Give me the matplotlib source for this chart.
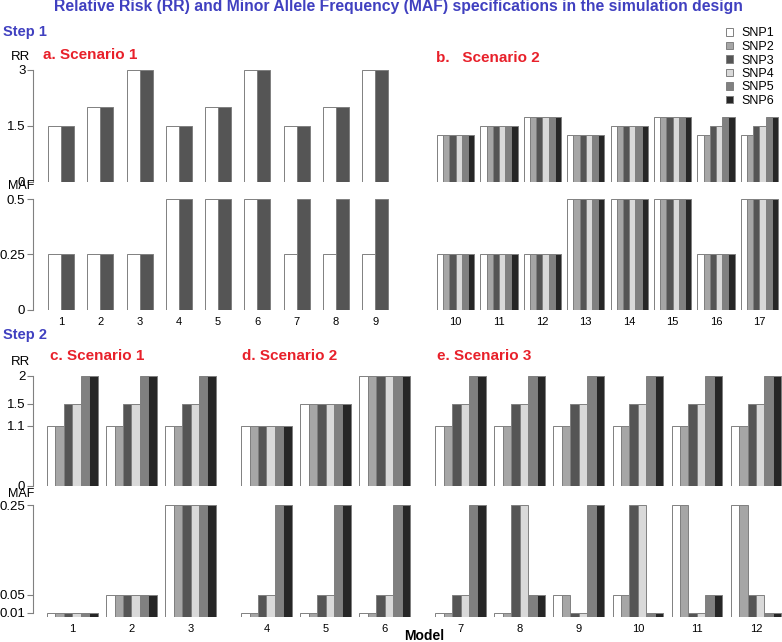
import matplotlib
matplotlib.use("Agg")
import matplotlib.pyplot as plt
import numpy as np
from matplotlib.patches import Patch

plt.rcParams['font.family'] = ['Liberation Sans', 'DejaVu Sans']

W, H = 782, 642

snps = ["SNP1", "SNP2", "SNP3", "SNP4", "SNP5", "SNP6"]
snp_colors = ["#ffffff", "#a6a6a6", "#555555", "#d9d9d9", "#808080", "#262626"]
pair_colors = ["#ffffff", "#555555"]

# Step 1, scenario 1 (two SNPs per model)
models_a = [1, 2, 3, 4, 5, 6, 7, 8, 9]
rr_a = [[1.5, 1.5], [2, 2], [3, 3], [1.5, 1.5], [2, 2], [3, 3], [1.5, 1.5], [2, 2], [3, 3]]
maf_a = [[0.25, 0.25], [0.25, 0.25], [0.25, 0.25], [0.5, 0.5], [0.5, 0.5], [0.5, 0.5],
         [0.25, 0.5], [0.25, 0.5], [0.25, 0.5]]

# Step 1, scenario 2 (six SNPs per model)
models_b = [10, 11, 12, 13, 14, 15, 16, 17]
rr_b = [[1.25] * 6, [1.5] * 6, [1.75] * 6, [1.25] * 6, [1.5] * 6, [1.75] * 6,
        [1.25, 1.25, 1.5, 1.5, 1.75, 1.75], [1.25, 1.25, 1.5, 1.5, 1.75, 1.75]]
maf_b = [[0.25] * 6, [0.25] * 6, [0.25] * 6, [0.5] * 6, [0.5] * 6, [0.5] * 6,
         [0.25] * 6, [0.5] * 6]

# Step 2, scenarios 1-3
models_2 = [1, 2, 3, 4, 5, 6, 7, 8, 9, 10, 11, 12]
block_2 = [0, 0, 0, 1, 1, 1, 2, 2, 2, 2, 2, 2]
rr_2 = [[1.1, 1.1, 1.5, 1.5, 2, 2]] * 3 + [[1.1] * 6, [1.5] * 6, [2] * 6] + \
       [[1.1, 1.1, 1.5, 1.5, 2, 2]] * 6
maf_2 = [[0.01] * 6, [0.05] * 6, [0.25] * 6,
         [0.01, 0.01, 0.05, 0.05, 0.25, 0.25],
         [0.01, 0.01, 0.05, 0.05, 0.25, 0.25],
         [0.01, 0.01, 0.05, 0.05, 0.25, 0.25],
         [0.01, 0.01, 0.05, 0.05, 0.25, 0.25],
         [0.01, 0.01, 0.25, 0.25, 0.05, 0.05],
         [0.05, 0.05, 0.01, 0.01, 0.25, 0.25],
         [0.05, 0.05, 0.25, 0.25, 0.01, 0.01],
         [0.25, 0.25, 0.01, 0.01, 0.05, 0.05],
         [0.25, 0.25, 0.05, 0.05, 0.01, 0.01]]

blue = "#4040c0"
red = "#e8202a"
axcol = "#808080"

fig = plt.figure(figsize=(W / 100, H / 100), dpi=100)


def px_axes(left, top, right, bottom):
    return fig.add_axes([left / W, 1 - bottom / H, (right - left) / W, (bottom - top) / H])


def grouped(ax, data, colors, starts):
    data = np.array(data)
    for j in range(data.shape[1]):
        ax.bar(starts + j, data[:, j], width=1, align='edge', color=colors[j],
               edgecolor=axcol, linewidth=0.7)


def style(ax, ticks, labels, lo, hi):
    for s in ['top', 'right', 'bottom']:
        ax.spines[s].set_visible(False)
    ax.spines['left'].set_color(axcol)
    ax.spines['left'].set_linewidth(0.8)
    ax.spines['left'].set_bounds(lo, hi)
    ax.set_yticks(ticks)
    ax.set_yticklabels(labels, fontsize=9.5)
    ax.tick_params(axis='y', length=4, width=0.8, color=axcol, pad=1.5)
    ax.tick_params(axis='x', length=0)


def no_yaxis(ax):
    for s in ax.spines.values():
        s.set_visible(False)
    ax.set_yticks([])
    ax.tick_params(axis='x', length=0)


# ---- Step 1 a ----
ua, oa = 13.08, 35.0
starts_a = 1 + 3 * np.arange(len(models_a))
xl_a = ((33 - oa) / ua, (396 - oa) / ua)

ax = px_axes(33, 70, 396, 182)
grouped(ax, rr_a, pair_colors, starts_a)
ax.set_xlim(xl_a)
ax.set_ylim(0, 3)
style(ax, [0, 1.5, 3], ["0", "1.5", "3"], 0, 3)
ax.set_xticks([])

ax = px_axes(33, 199, 396, 310)
grouped(ax, maf_a, pair_colors, starts_a)
ax.set_xlim(xl_a)
ax.set_ylim(0, 0.5)
style(ax, [0, 0.25, 0.5], ["0", "0.25", "0.5"], 0, 0.5)
ax.set_xticks(starts_a + 1)
ax.set_xticklabels([str(m) for m in models_a], fontsize=8)
ax.tick_params(axis='x', pad=5)

# ---- Step 1 b ----
ub, ob = 6.2, 430.8
starts_b = 1 + 7 * np.arange(len(models_b))
xl_b = ((425 - ob) / ub, (782 - ob) / ub)

ax = px_axes(425, 70, 782, 182)
grouped(ax, rr_b, snp_colors, starts_b)
ax.set_xlim(xl_b)
ax.set_ylim(0, 3)
no_yaxis(ax)
ax.set_xticks([])

ax = px_axes(425, 199, 782, 310)
grouped(ax, maf_b, snp_colors, starts_b)
ax.set_xlim(xl_b)
ax.set_ylim(0, 0.5)
no_yaxis(ax)
ax.set_xticks(starts_b + 3)
ax.set_xticklabels([str(m) for m in models_b], fontsize=8)
ax.tick_params(axis='x', pad=5)

# ---- Step 2 ----
u2, o2 = 8.44, 38.6
starts_2 = 1 + 7 * np.arange(len(models_2)) + 2 * np.array(block_2)
xl_2 = ((33 - o2) / u2, (782 - o2) / u2)

ax = px_axes(33, 376, 782, 486)
grouped(ax, rr_2, snp_colors, starts_2)
ax.set_xlim(xl_2)
ax.set_ylim(0, 2)
style(ax, [0, 1.1, 1.5, 2], ["0", "1.1", "1.5", "2"], 0, 2)
ax.set_xticks([])

ax = px_axes(33, 505, 782, 617)
grouped(ax, maf_2, snp_colors, starts_2)
ax.set_xlim(xl_2)
ax.set_ylim(0, 0.25)
style(ax, [0.01, 0.05, 0.25], ["0.01", "0.05", "0.25"], 0.01, 0.25)
ax.set_xticks(starts_2 + 3)
ax.set_xticklabels([str(m) for m in models_2], fontsize=8)
ax.tick_params(axis='x', pad=5)

# ---- text ----
def t(x, y, s, **kw):
    fig.text(x / W, 1 - y / H, s, **kw)


t(398, 7, "Relative Risk (RR) and Minor Allele Frequency (MAF) specifications in the simulation design",
  ha='center', va='center', color=blue, fontsize=11.3, fontweight='bold')
t(3, 32, "Step 1", ha='left', va='center', color=blue, fontsize=10.5, fontweight='bold')
t(3, 335, "Step 2", ha='left', va='center', color=blue, fontsize=10.5, fontweight='bold')
t(43, 55, "a. Scenario 1", ha='left', va='center', color=red, fontsize=11, fontweight='bold')
t(436, 58, "b.   Scenario 2", ha='left', va='center', color=red, fontsize=11, fontweight='bold')
t(50, 356, "c. Scenario 1", ha='left', va='center', color=red, fontsize=11, fontweight='bold')
t(242, 356, "d. Scenario 2", ha='left', va='center', color=red, fontsize=11, fontweight='bold')
t(437, 356, "e. Scenario 3", ha='left', va='center', color=red, fontsize=11, fontweight='bold')
t(20, 57, "RR", ha='center', va='center', fontsize=9.5)
t(21, 186, "MAF", ha='center', va='center', fontsize=9)
t(20, 362, "RR", ha='center', va='center', fontsize=9.5)
t(21, 494, "MAF", ha='center', va='center', fontsize=9)
t(424, 636, "Model", ha='center', va='center', fontsize=10, fontweight='bold')

handles = [Patch(facecolor=c, edgecolor=axcol, linewidth=0.7) for c in snp_colors]
fig.legend(handles, snps, loc='upper right', bbox_to_anchor=(1.0, 1 - 20 / H),
           frameon=False, fontsize=9, handlelength=0.55, handleheight=0.55,
           handletextpad=0.7, labelspacing=0.12, borderaxespad=0.2)

plt.savefig("out.png", dpi=100)
plt.close()
